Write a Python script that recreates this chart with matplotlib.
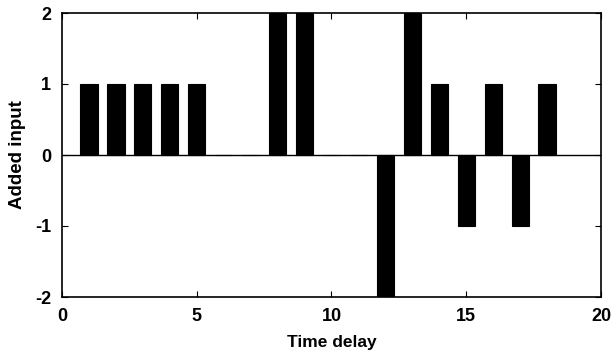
import matplotlib
matplotlib.use("Agg")
import matplotlib.pyplot as plt

plt.rcParams['font.family'] = ['Liberation Sans', 'DejaVu Sans']
plt.rcParams['font.weight'] = 'bold'

delays = list(range(1, 19))
added = [1, 1, 1, 1, 1, 0, 0, 2, 2, 0, 0, -2, 2, 1, -1, 1, -1, 1]
xticks = [0, 5, 10, 15, 20]
yticks = [-2, -1, 0, 1, 2]
ytick_labels = ['-2', '-1', '0', '1', '2']

fig = plt.figure(figsize=(6.13, 3.58), dpi=100)
ax = fig.add_axes([62 / 613, 61 / 358, 539 / 613, 284 / 358])

ax.bar(delays, added, width=0.64, color='black', edgecolor='black', linewidth=0.8)
ax.axhline(0, color='black', linewidth=1.0)

ax.set_xlim(0, 20)
ax.set_ylim(-2, 2)
ax.set_xticks(xticks)
ax.set_yticks(yticks)
ax.set_yticklabels(ytick_labels)
ax.tick_params(direction='in', top=True, right=True, length=4, width=0.8,
               labelsize=13)
ax.tick_params(axis='x', pad=8)
ax.tick_params(axis='y', pad=8)
for s in ax.spines.values():
    s.set_linewidth(1.2)

ax.set_xlabel('Time delay', fontsize=12.5, fontweight='bold', labelpad=7)
ax.set_ylabel('Added input', fontsize=13.5, fontweight='bold', labelpad=6)

fig.savefig('out.png', dpi=100)
